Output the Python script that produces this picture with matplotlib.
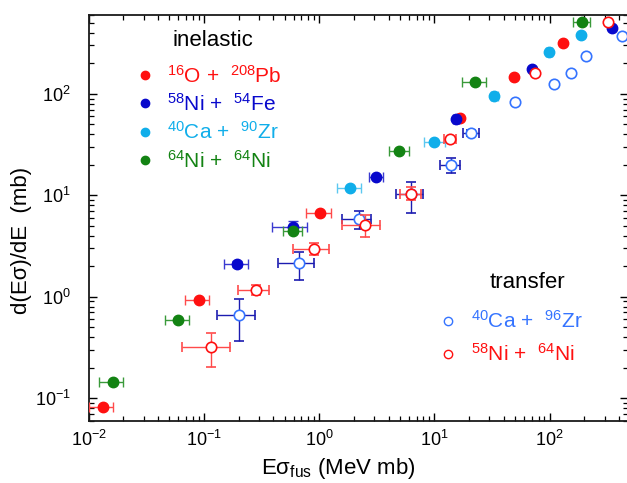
#import required modules
import matplotlib
matplotlib.use('Agg')
import matplotlib.pyplot as plt
from matplotlib.lines import Line2D
import numpy as np

#fonts - helvetica-like look
plt.rcParams['font.family'] = ['Liberation Sans', 'DejaVu Sans']
plt.rcParams['mathtext.fontset'] = 'custom'
plt.rcParams['mathtext.rm'] = 'Liberation Sans'
plt.rcParams['mathtext.it'] = 'Liberation Sans:italic'
plt.rcParams['mathtext.bf'] = 'Liberation Sans:bold'

#inelastic data: x = E*sigma_fus (MeV mb), y = d(E sigma)/dE (mb), x_lo/x_hi = horizontal bar ends
o_pb_x = [0.0132, 0.0898, 1.01, 16.7, 49.4, 129.6]
o_pb_y = [0.0824, 0.930, 6.66, 58.4, 146, 320]
o_pb_xlo = [0.0101, 0.0687, 0.774, 16.7, 49.4, 129.6]
o_pb_xhi = [0.0161, 0.111, 1.258, 16.7, 49.4, 129.6]

ni_fe_x = [0.1916, 0.593, 3.09, 15.45, 69.8, 347]
ni_fe_y = [2.09, 4.91, 15.08, 56.7, 175, 444]
ni_fe_xlo = [0.1497, 0.390, 2.69, 14.6, 69.8, 347]
ni_fe_xhi = [0.2416, 0.790, 3.57, 16.4, 69.8, 347]
ni_fe_ylo = [1.95, 4.3, 15.08, 56.7, 175, 444]
ni_fe_yhi = [2.25, 5.6, 15.08, 56.7, 175, 444]

ca_zr_x = [1.864, 10.0, 33.2, 98.0, 187]
ca_zr_y = [11.9, 33.4, 95.6, 261, 382]
ca_zr_xlo = [1.427, 8.04, 31.0, 92.0, 187]
ca_zr_xhi = [2.321, 12.24, 35.5, 104.0, 187]

ni_ni_x = [0.01614, 0.0598, 0.593, 4.91, 22.7, 191]
ni_ni_y = [0.1435, 0.590, 4.46, 27.4, 132, 509]
ni_ni_xlo = [0.01235, 0.0458, 0.486, 4.03, 17.4, 160.5]
ni_ni_xhi = [0.01994, 0.0744, 0.715, 6.00, 28.1, 224]

#transfer data
ca_zr96_x = [0.2018, 0.668, 2.20, 6.30, 13.8, 20.8, 50.1, 110, 153, 208, 421]
ca_zr96_y = [0.661, 2.14, 5.85, 10.25, 19.9, 41.0, 84.0, 125.5, 160, 237, 373]
ca_zr96_xlo = [0.130, 0.440, 1.589, 4.67, 11.2, 17.6, 50.1, 110, 153, 208, 421]
ca_zr96_xhi = [0.278, 0.902, 2.795, 7.94, 16.7, 24.6, 50.1, 110, 153, 208, 421]
ca_zr96_ylo = [0.369, 1.465, 4.63, 6.66, 16.5, 38.5, 84.0, 125.5, 160, 237, 373]
ca_zr96_yhi = [0.945, 2.79, 7.06, 13.5, 23.5, 43.6, 84.0, 125.5, 160, 237, 373]

ni58_ni64_x = [0.1148, 0.2816, 0.896, 2.48, 6.30, 13.7, 74.7, 318]
ni58_ni64_y = [0.322, 1.167, 2.96, 5.11, 10.25, 35.8, 162, 516]
ni58_ni64_xlo = [0.0640, 0.198, 0.593, 1.589, 4.98, 12.0, 74.7, 318]
ni58_ni64_xhi = [0.1676, 0.367, 1.209, 3.39, 7.68, 15.45, 74.7, 318]
ni58_ni64_ylo = [0.2045, 1.05, 2.60, 3.86, 9.01, 35.8, 162, 516]
ni58_ni64_yhi = [0.437, 1.30, 3.35, 6.41, 12.1, 35.8, 162, 516]

#legend labels
inel_names = ['$^{16}$O +  $^{208}$Pb', '$^{58}$Ni +  $^{54}$Fe', '$^{40}$Ca +  $^{90}$Zr', '$^{64}$Ni +  $^{64}$Ni']
tr_names = ['$^{40}$Ca +  $^{96}$Zr', '$^{58}$Ni +  $^{64}$Ni']

#colours
red = '#ff1010'
blue = '#0808cc'
cyan = '#10aeea'
green = '#138313'
lblue = '#3574ff'


#helper: bar lengths from bar ends
def errs(v, lo, hi):
    v = np.array(v)
    return np.array([v - np.array(lo), np.array(hi) - v])


fig = plt.figure(figsize=(6.27, 4.83), dpi=100)
ax = fig.add_axes([0.1415, 0.1292, 0.8604, 0.8398])

eb = dict(elinewidth=1.0, capsize=3.5, capthick=1.0, fmt='o', ms=7.5)
#filled symbols (inelastic)
ax.errorbar(o_pb_x, o_pb_y, xerr=errs(o_pb_x, o_pb_xlo, o_pb_xhi),
            color=red, ecolor='#ff4a4a', zorder=3, **eb)
ax.errorbar(ca_zr_x, ca_zr_y, xerr=errs(ca_zr_x, ca_zr_xlo, ca_zr_xhi),
            color=cyan, ecolor='#5cc8f0', zorder=3, **eb)
ax.errorbar(ni_fe_x, ni_fe_y, xerr=errs(ni_fe_x, ni_fe_xlo, ni_fe_xhi),
            yerr=errs(ni_fe_y, ni_fe_ylo, ni_fe_yhi), color=blue, ecolor='#3a3ad0', zorder=4, **eb)
ax.errorbar(ni_ni_x, ni_ni_y, xerr=errs(ni_ni_x, ni_ni_xlo, ni_ni_xhi),
            color=green, ecolor='#3a9a3a', zorder=5, **eb)

#open symbols (transfer)
ax.errorbar(ca_zr96_x, ca_zr96_y, xerr=errs(ca_zr96_x, ca_zr96_xlo, ca_zr96_xhi),
            yerr=errs(ca_zr96_y, ca_zr96_ylo, ca_zr96_yhi), mfc='white', mec=lblue, mew=1.2,
            ecolor='#1c1cb0', zorder=6, **eb)
ax.errorbar(ni58_ni64_x, ni58_ni64_y, xerr=errs(ni58_ni64_x, ni58_ni64_xlo, ni58_ni64_xhi),
            yerr=errs(ni58_ni64_y, ni58_ni64_ylo, ni58_ni64_yhi), mfc='white', mec=red, mew=1.2,
            ecolor='#ff4a4a', zorder=7, **eb)

#axes setup
ax.set_xscale('log')
ax.set_yscale('log')
ax.set_xlim(0.01, 480)
ax.set_ylim(0.06, 600)
ax.tick_params(which='both', direction='in', top=True, right=True, labelsize=13, colors='black')
ax.tick_params(which='major', length=6, width=1.0)
ax.tick_params(which='minor', length=3.5, width=0.9)
ax.tick_params(axis='x', which='major', pad=7)
ax.tick_params(axis='y', which='major', pad=13)
for s in ax.spines.values():
    s.set_linewidth(1.3)
    s.set_color('#1a1a1a')

ax.set_xlabel('E\u03c3$_{\\rm fus}$ (MeV mb)', fontsize=16)
ax.set_ylabel('d(E\u03c3)/dE  (mb)', fontsize=16)
ax.xaxis.set_label_coords(0.462, -0.087)
ax.yaxis.set_label_coords(-0.105, 0.445)

#legend headings
ax.text(0.2304, 0.9359, 'inelastic', transform=ax.transAxes, ha='center', va='center', fontsize=16)
ax.text(0.8124, 0.3393, 'transfer', transform=ax.transAxes, ha='center', va='center', fontsize=16)

#legends
inel_cols = [red, blue, cyan, green]
h1 = [Line2D([], [], ls='none', marker='o', ms=6, color=c) for c in inel_cols]
leg1 = ax.legend(h1, inel_names, loc='upper left', bbox_to_anchor=(0.0895, 0.878),
                 frameon=False, fontsize=15, labelcolor=inel_cols,
                 handlelength=0.8, handletextpad=0.66, labelspacing=0.31, borderpad=0, borderaxespad=0)
ax.add_artist(leg1)

tr_cols = [lblue, red]
h2 = [Line2D([], [], ls='none', marker='o', ms=6, mfc='white', mec=c, mew=1.0) for c in tr_cols]
ax.legend(h2, tr_names, loc='upper left', bbox_to_anchor=(0.6505, 0.2727),
          frameon=False, fontsize=15, labelcolor=tr_cols,
          handlelength=0.8, handletextpad=0.7, labelspacing=0.54, borderpad=0, borderaxespad=0)

plt.savefig('out.png', dpi=100)
